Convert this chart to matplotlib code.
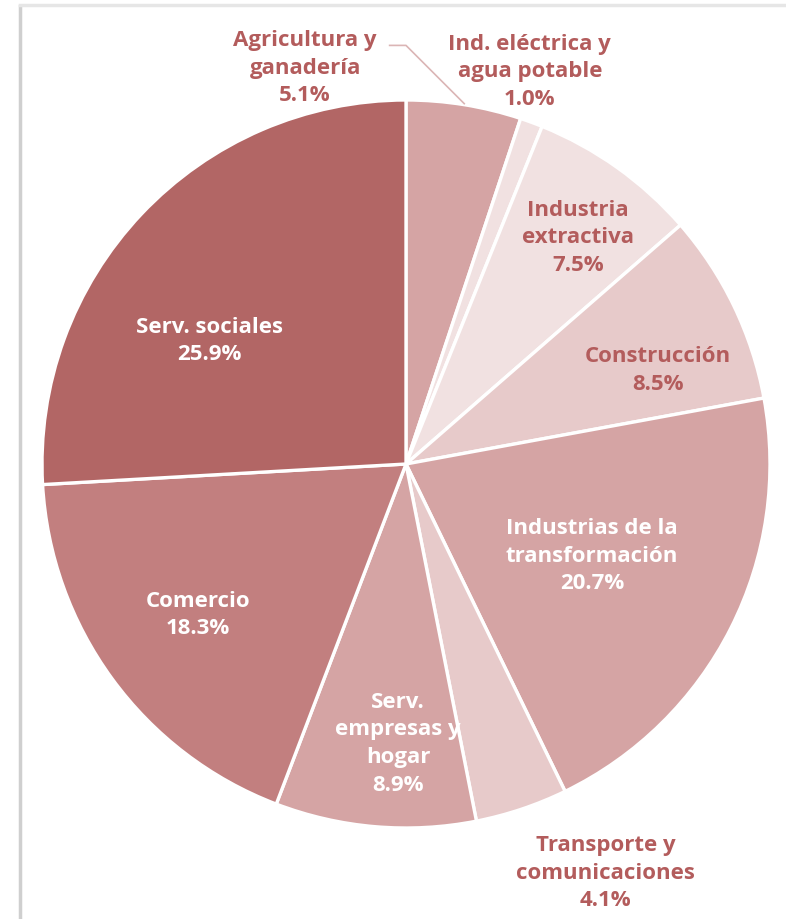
import matplotlib.pyplot as plt
from matplotlib.lines import Line2D

plt.rcParams['font.family'] = ['Open Sans', 'DejaVu Sans']

sectors = ['Agricultura y\nganadería', 'Ind. eléctrica y\nagua potable', 'Industria\nextractiva',
           'Construcción', 'Industrias de la\ntransformación', 'Transporte y\ncomunicaciones',
           'Serv.\nempresas y\nhogar', 'Comercio', 'Serv. sociales']
shares = [5.1, 1.0, 7.5, 8.5, 20.7, 4.1, 8.9, 18.3, 25.9]

colors = ['#d5a4a4', '#f1e1e1', '#f1e1e1', '#e7caca', '#d5a4a4',
          '#e7caca', '#d5a4a4', '#c27f7f', '#b26665']
# label colour and where the label sits (pie radius = 1)
txt_colors = ['#b35c5c', '#b35c5c', '#b35c5c', '#b35c5c', 'white',
              '#b35c5c', 'white', 'white', 'white']
label_pos = [(-0.277, 1.09), (0.34, 1.08), (0.473, 0.624), (0.692, 0.26), (0.511, -0.25),
             (0.549, -1.121), (-0.022, -0.766), (-0.571, -0.412), (-0.541, 0.341)]

fig = plt.figure(figsize=(7.86, 9.2), dpi=100)
ax = fig.add_axes([42 / 786, (920 - 465 - 364) / 920, 728 / 786, 728 / 920])

ax.pie(shares, colors=colors, startangle=90, counterclock=False, radius=1,
       wedgeprops=dict(edgecolor='white', linewidth=2.4))
ax.set_xlim(-1, 1)
ax.set_ylim(-1, 1)
ax.set_aspect('equal')
ax.axis('off')

for name, val, (x, y), c in zip(sectors, shares, label_pos, txt_colors):
    ax.text(x, y, f'{name}\n{val:.1f}%', ha='center', va='center', color=c,
            fontsize=16, fontweight='bold', linespacing=1.42, clip_on=False)

# leader line for the agriculture label
ax.plot([-0.045, 0.0, 0.16], [1.15, 1.15, 0.99], color='#dbb5b5', lw=1.2, clip_on=False)

# screenshot frame
fig.add_artist(Line2D([20 / 786, 20 / 786], [0, 1 - 7 / 920], color='#cfcfcf', lw=2.5,
                      transform=fig.transFigure))
fig.add_artist(Line2D([20 / 786, 1], [1 - 6 / 920, 1 - 6 / 920], color='#e6e6e6', lw=2.5,
                      transform=fig.transFigure))

fig.savefig('out.png', dpi=100)
